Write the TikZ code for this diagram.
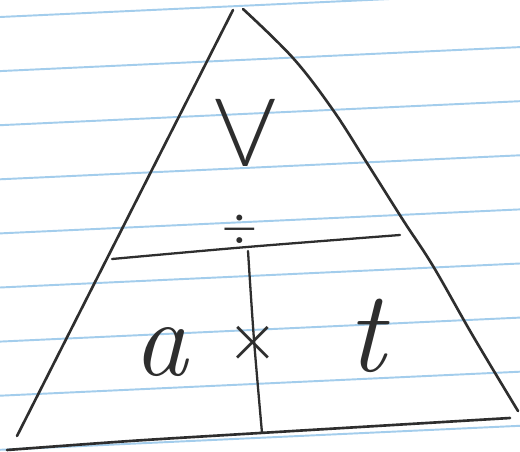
\documentclass[tikz,border=0pt]{standalone}
\usepackage{fontspec}
\usetikzlibrary{positioning}
\newfontfamily\thinsans{Lato Light}
\definecolor{crule}{HTML}{a3cdec}
\definecolor{cpen}{HTML}{2e2e2e}

\begin{document}
\begin{tikzpicture}[x=.02cm, y=-.02cm,
    every node/.style={text=cpen, inner sep=0pt},
    pen/.style={draw=cpen, line width=1.5pt, line cap=round, line join=round}]
  \useasboundingbox (0,0) rectangle (520,452);
  \fill[white] (0,0) rectangle (520,452);
  % ruled paper
  \foreach \i in {0,...,8}
    \draw[crule, line width=1.1pt] (0,{17+54.1*\i}) -- (520,{-7+54.1*\i});
  % triangle
  \draw[pen] (233,10) -- (17,436);
  \draw[pen] plot[smooth, tension=.6] coordinates {(243,9) (293,58) (333,110) (367,163) (403,220) (433,266) (473,336) (518,411)};
  \draw[pen] plot[smooth] coordinates {(7,450) (130,441) (260,433) (510,418)};
  % dividers
  \draw[pen, line width=1.3pt] plot[smooth] coordinates {(112,259) (247,247) (400,235)};
  \draw[pen, line width=1.3pt] plot[smooth] coordinates {(248,251) (254,340) (262,433)};
  % labels
  \node[font=\thinsans\fontsize{54}{54}\selectfont] (vel) at (246,133) {V};
  \node[font=\thinsans\fontsize{36}{36}\selectfont] (divsym) at (240,233) {÷};
  \node[font=\itshape\fontsize{62}{62}\selectfont] (acc) at (161,352) {a};
  \node[font=\thinsans\fontsize{44}{44}\selectfont] (timessym) at (253,347) {×};
  \node[font=\itshape\fontsize{66}{66}\selectfont] (tim) at (366,336) {t};
\end{tikzpicture}
\end{document}
